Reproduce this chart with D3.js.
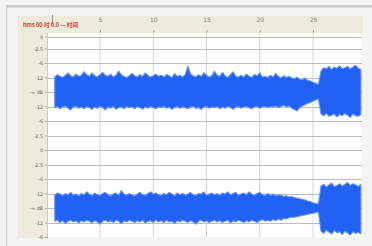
<!DOCTYPE html>
<html><head><meta charset="utf-8">
<script src="https://cdn.jsdelivr.net/npm/d3@7"></script>
<style>html,body{margin:0;padding:0;background:#f3f3f3;overflow:hidden}svg{display:block}</style>
</head><body>
<svg id="c" width="372" height="246"></svg>
<script>
// ---- data ----
const timeTicks = [5, 10, 15, 20, 25];
const timeTickLabels = ["5", "10", "15", "20", "25"];
const ampTicks = [-1, -0.75, -0.5, -0.25, 0, 0.25, 0.5, 0.75, 1];
const ampTickLabels = ["0", "-2.5", "-6", "-12", "-∞ dB", "-12", "-6", "-2.5", "0"];
const binStart = 0.75, binStep = 0.25;   // seconds
const ch1Max = [0.26,0.30,0.27,0.25,0.29,0.33,0.28,0.26,0.31,0.27,
 0.29,0.35,0.30,0.27,0.33,0.28,0.26,0.30,0.34,0.29,
 0.27,0.31,0.26,0.29,0.36,0.30,0.27,0.25,0.28,0.32,
 0.28,0.26,0.30,0.27,0.33,0.29,0.26,0.28,0.31,0.27,
 0.29,0.26,0.30,0.28,0.25,0.32,0.27,0.29,0.26,0.30,
 0.45,0.31,0.28,0.26,0.30,0.27,0.33,0.29,0.26,0.28,
 0.36,0.29,0.27,0.34,0.28,0.25,0.30,0.35,0.27,0.26,
 0.29,0.26,0.31,0.27,0.25,0.30,0.28,0.33,0.26,0.27,
 0.25,0.29,0.26,0.32,0.27,0.24,0.28,0.25,0.27,0.24,
 0.23,0.26,0.22,0.21,0.24,0.20,0.19,0.17,0.15,0.13,
 0.36,0.42,0.40,0.44,0.39,0.43,0.41,0.45,0.40,0.42,
 0.44,0.40,0.43,0.46,0.41,0.39];
const ch1Min = [-0.27,-0.25,-0.29,-0.26,-0.24,-0.28,-0.31,-0.26,-0.25,-0.28,
 -0.26,-0.29,-0.25,-0.27,-0.30,-0.26,-0.28,-0.25,-0.27,-0.31,
 -0.26,-0.28,-0.25,-0.30,-0.27,-0.26,-0.29,-0.25,-0.27,-0.26,
 -0.29,-0.25,-0.27,-0.30,-0.26,-0.28,-0.25,-0.27,-0.29,-0.26,
 -0.27,-0.25,-0.28,-0.26,-0.30,-0.27,-0.25,-0.28,-0.26,-0.27,
 -0.29,-0.26,-0.25,-0.28,-0.27,-0.30,-0.26,-0.25,-0.28,-0.26,
 -0.27,-0.25,-0.29,-0.26,-0.28,-0.25,-0.27,-0.30,-0.26,-0.25,
 -0.28,-0.26,-0.25,-0.27,-0.29,-0.26,-0.25,-0.28,-0.26,-0.25,
 -0.27,-0.25,-0.26,-0.24,-0.27,-0.25,-0.23,-0.26,-0.24,-0.28,
 -0.30,-0.33,-0.27,-0.24,-0.22,-0.20,-0.18,-0.16,-0.14,-0.12,
 -0.38,-0.41,-0.37,-0.42,-0.40,-0.38,-0.43,-0.39,-0.41,-0.37,
 -0.40,-0.44,-0.38,-0.41,-0.42,-0.39];
const ch2Max = [0.22,0.26,0.24,0.21,0.25,0.23,0.27,0.22,0.24,0.21,
 0.25,0.23,0.28,0.24,0.21,0.26,0.23,0.22,0.25,0.27,
 0.23,0.21,0.24,0.26,0.22,0.30,0.24,0.22,0.25,0.23,
 0.21,0.24,0.27,0.23,0.22,0.25,0.28,0.24,0.26,0.23,
 0.22,0.25,0.23,0.27,0.24,0.21,0.26,0.23,0.25,0.22,
 0.24,0.27,0.23,0.22,0.25,0.24,0.28,0.22,0.24,0.26,
 0.23,0.25,0.22,0.26,0.24,0.28,0.23,0.25,0.27,0.22,
 0.24,0.26,0.23,0.28,0.24,0.22,0.25,0.27,0.23,0.22,
 0.25,0.22,0.24,0.21,0.23,0.22,0.20,0.21,0.19,0.20,
 0.18,0.17,0.16,0.15,0.14,0.12,0.11,0.09,0.08,0.07,
 0.38,0.41,0.36,0.40,0.43,0.37,0.39,0.42,0.38,0.41,
 0.44,0.39,0.42,0.40,0.37,0.41];
const ch2Min = [-0.23,-0.21,-0.25,-0.22,-0.27,-0.23,-0.21,-0.24,-0.22,-0.26,
 -0.22,-0.24,-0.21,-0.23,-0.26,-0.22,-0.24,-0.28,-0.23,-0.21,
 -0.24,-0.22,-0.25,-0.21,-0.23,-0.27,-0.22,-0.24,-0.21,-0.23,
 -0.25,-0.22,-0.24,-0.21,-0.26,-0.23,-0.22,-0.25,-0.21,-0.24,
 -0.22,-0.25,-0.21,-0.24,-0.23,-0.27,-0.22,-0.24,-0.21,-0.23,
 -0.25,-0.22,-0.24,-0.28,-0.23,-0.21,-0.24,-0.22,-0.25,-0.23,
 -0.21,-0.24,-0.22,-0.25,-0.23,-0.21,-0.26,-0.22,-0.24,-0.21,
 -0.23,-0.25,-0.22,-0.24,-0.21,-0.23,-0.25,-0.22,-0.20,-0.23,
 -0.21,-0.23,-0.20,-0.22,-0.19,-0.21,-0.18,-0.19,-0.17,-0.16,
 -0.16,-0.15,-0.14,-0.13,-0.12,-0.11,-0.10,-0.09,-0.08,-0.07,
 -0.40,-0.44,-0.38,-0.42,-0.45,-0.39,-0.43,-0.41,-0.46,-0.40,
 -0.43,-0.47,-0.41,-0.44,-0.42,-0.45];
const titleText = "hms 00 时 0.0 — 时间";

// ---- layout ----
const W = 372, H = 246;
const plot = {l: 48, r: 362, t: 33, b: 237};
const svg = d3.select("#c");

svg.append("rect").attr("width", W).attr("height", H).attr("fill", "#f3f3f3");
svg.append("rect").attr("x", 6).attr("y", 5).attr("width", W - 6).attr("height", 2.5).attr("fill", "#c9c9c9");
svg.append("rect").attr("x", 6).attr("y", 5).attr("width", 1.2).attr("height", H - 5).attr("fill", "#d2d2d2");

// rulers
svg.append("rect").attr("x", 18).attr("y", 16).attr("width", 345).attr("height", plot.t - 16).attr("fill", "#eeebdd");
svg.append("rect").attr("x", 18).attr("y", plot.t).attr("width", plot.l - 18).attr("height", plot.b - plot.t + 1).attr("fill", "#eeebdd");
svg.append("rect").attr("x", plot.l).attr("y", plot.t).attr("width", plot.r - plot.l).attr("height", plot.b - plot.t).attr("fill", "#ffffff");

const x = d3.scaleLinear().domain([0, 29.6]).range([46.75, plot.r]);
const y1 = d3.scaleLinear().domain([-1, 1]).range([150, 34]);
const y2 = d3.scaleLinear().domain([-1, 1]).range([266, 150]);

svg.append("clipPath").attr("id", "pc").append("rect")
  .attr("x", plot.l).attr("y", plot.t).attr("width", plot.r - plot.l).attr("height", plot.b - plot.t);

const grid = svg.append("g").attr("clip-path", "url(#pc)");
grid.selectAll(".vg").data(timeTicks).join("line")
  .attr("x1", d => x(d)).attr("x2", d => x(d)).attr("y1", plot.t).attr("y2", plot.b)
  .attr("stroke", "#d6d6d6").attr("stroke-width", 1);
[y1, y2].forEach(ys => {
  grid.selectAll(null).data(ampTicks).join("line")
    .attr("x1", plot.l).attr("x2", plot.r)
    .attr("y1", d => Math.round(Math.max(ys(d), 37)) + 0.5).attr("y2", d => Math.round(Math.max(ys(d), 37)) + 0.5)
    .attr("stroke", "#bdbdbd").attr("stroke-width", 1);
});

// top axis
const topAxis = d3.axisTop(x).tickValues(timeTicks).tickFormat((d, i) => timeTickLabels[i]).tickSize(3).tickPadding(8);
const ta = svg.append("g").attr("transform", `translate(0,${plot.t})`).call(topAxis);
ta.select(".domain").remove();
ta.selectAll("line").attr("stroke", "#b0ad9f");
ta.selectAll("text").attr("fill", "#85827a").attr("font-size", 6).attr("font-family", "DejaVu Sans");
svg.append("line").attr("x1", 52.5).attr("x2", 52.5).attr("y1", 15).attr("y2", 24).attr("stroke", "#9a978c").attr("stroke-width", 1);

// left axes
[y1, y2].forEach((ys, k) => {
  const ax = d3.axisLeft(ys).tickValues(ampTicks).tickFormat((d, i) => ampTickLabels[i]).tickSize(3).tickPadding(2);
  const g = svg.append("g").attr("transform", `translate(${plot.l},0)`).call(ax);
  g.select(".domain").remove();
  g.selectAll(".tick").filter(d => (k === 0 && d === -1) || ys(d) > plot.b + 1).remove();
  g.selectAll(".tick").filter(d => ys(d) < 37).attr("transform", "translate(0,37)");
  g.selectAll("line").attr("stroke", "#a9a69a");
  g.selectAll("text").attr("fill", "#605d55").attr("font-size", 4.8).attr("font-family", "DejaVu Sans");
});
svg.append("line").attr("x1", plot.l - 0.5).attr("x2", plot.l - 0.5).attr("y1", plot.t).attr("y2", plot.b).attr("stroke", "#cfccbf");

// title
svg.append("text").attr("x", 23).attr("y", 27).attr("fill", "#e0402f").attr("font-size", 5.6)
  .attr("font-family", "Noto Sans CJK SC, DejaVu Sans").attr("font-weight", "bold").text(titleText);

// waveforms
const wave = svg.append("g").attr("clip-path", "url(#pc)");
function drawChannel(maxs, mins, ys) {
  const pts = maxs.map((v, i) => ({t: binStart + i * binStep, hi: v, lo: mins[i]}));
  const area = d3.area().x(d => x(d.t)).y0(d => ys(d.lo)).y1(d => ys(d.hi)).curve(d3.curveLinear);
  wave.append("path").datum(pts).attr("d", area)
    .attr("fill", "#2161f3").attr("stroke", "#6a95f8").attr("stroke-width", 1.1).attr("stroke-linejoin", "bevel");
}
drawChannel(ch1Max, ch1Min, y1);
drawChannel(ch2Max, ch2Min, y2);
</script>
</body></html>
